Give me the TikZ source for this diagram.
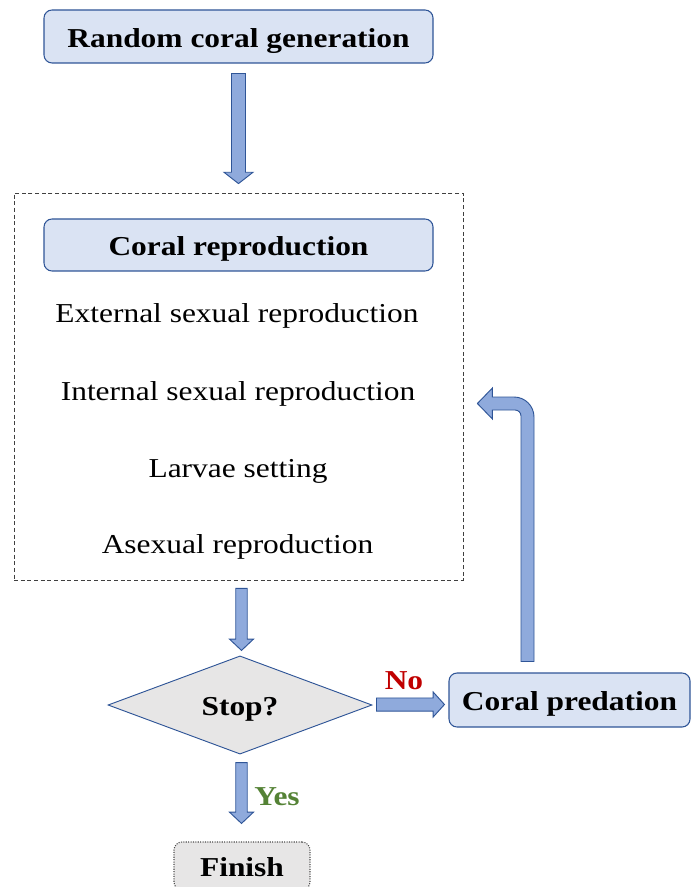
\documentclass[tikz,border=0pt]{standalone}
\usepackage{fontspec}
\setmainfont{Liberation Serif}[FakeStretch=1.15]
\usepackage{tikz}
\usetikzlibrary{shapes,arrows.meta,positioning,calc}
\definecolor{boxblue}{RGB}{218,227,243}
\definecolor{edgeblue}{RGB}{47,85,151}
\definecolor{arrowblue}{RGB}{143,170,220}
\definecolor{stopgray}{RGB}{231,230,230}
\definecolor{nored}{RGB}{192,0,0}
\definecolor{yesgreen}{RGB}{84,130,53}

% fat block arrow: start, tip, half shaft width, half head width
\newcommand{\fatarrow}[4]{%
  \path (#1) coordinate (fa-s) (#2) coordinate (fa-t);
  \path ($(fa-t)!8.5pt!(fa-s)$) coordinate (fa-h);
  \filldraw[fatarrow] ($(fa-s)!#3!90:(fa-t)$) -- ($(fa-h)!#3!90:(fa-t)$) -- ($(fa-h)!#4!90:(fa-t)$)
    -- (fa-t) -- ($(fa-h)!#4!-90:(fa-t)$) -- ($(fa-h)!#3!-90:(fa-t)$) -- ($(fa-s)!#3!-90:(fa-t)$) -- cycle;
}

\begin{document}
\begin{tikzpicture}[
  x=0.75pt, y=0.75pt,
  every node/.style={font=\fontsize{20.5}{24}\selectfont, align=center, inner sep=0pt},
  box/.style={draw=edgeblue, fill=boxblue, line width=0.8pt, rounded corners=6pt,
    font=\fontsize{20.5}{24}\selectfont\bfseries, text height=16pt, text depth=0pt},
  fatarrow/.style={draw=edgeblue, fill=arrowblue, line width=0.7pt, line join=miter}
]
\useasboundingbox (0,0) rectangle (691,-887);

\node[box, minimum width=291.75pt, minimum height=39.75pt] (gen) at (238.5,-36.5) {Random coral generation};
\node[draw=black!75, dash pattern=on 3pt off 2pt, line width=0.6pt, minimum width=336.75pt, minimum height=290.25pt] (group) at (238.5,-386.5) {};
\node[box, minimum width=291.75pt, minimum height=39pt] (repro) at (238.5,-245) {Coral reproduction};
\node[anchor=base] (ext) at (237,-323) {External sexual reproduction};
\node[anchor=base] (int) at (238,-400) {Internal sexual reproduction};
\node[anchor=base] (larv) at (238,-477) {Larvae setting};
\node[anchor=base] (asex) at (237.5,-553) {Asexual reproduction};

\node[diamond, draw=edgeblue, fill=stopgray, line width=0.7pt, minimum width=198pt, minimum height=73.5pt,
  font=\fontsize{20.5}{24}\selectfont\bfseries, text height=16pt, text depth=0pt] (stop) at (240,-705) {Stop?};
\node[box, minimum width=180.75pt, minimum height=40.5pt] (pred) at (569.5,-700) {Coral predation};
\node[box, draw=black!70, densely dotted, fill=stopgray, minimum width=102pt, minimum height=36pt] (fin) at (242,-866) {Finish};

\fatarrow{$(gen.south)+(0,-10)$}{$(group.north)+(0,9)$}{5.25pt}{10.9pt}
\fatarrow{$(group.south -| stop.north)+(1.5,-8)$}{$(stop.north)+(1.5,5)$}{4.3pt}{9pt}
\fatarrow{$(stop.south)+(1.5,-8)$}{$(fin.north)+(-0.5,18)$}{4.3pt}{9pt}
\fatarrow{$(stop.east)+(4,0.5)$}{$(stop.east -| pred.west)+(-4,0.5)$}{4.9pt}{9.4pt}

\node[anchor=base, font=\fontsize{20.5}{24}\selectfont\bfseries, text=nored] (no) at (404,-689) {No};
\node[anchor=base, font=\fontsize{20.5}{24}\selectfont\bfseries, text=yesgreen] (yes) at (277,-805) {Yes};

% bent arrow back to the reproduction group
\coordinate (up-foot) at ($(pred.north)+(-42,11)$);
\coordinate (up-tip) at ($(group.east)+(14,-17)$);
\coordinate (up-bend) at (up-foot |- up-tip);
\filldraw[fatarrow] ($(up-foot)+(6.5,0)$) -- ($(up-bend)+(6.5,-13.5)$) arc[start angle=0, end angle=90, radius=15pt]
  -- ($(up-tip)+(15,6.5)$) -- ($(up-tip)+(15,15.5)$) -- (up-tip) -- ($(up-tip)+(15,-15.5)$) -- ($(up-tip)+(15,-6.5)$)
  -- ($(up-bend)+(-12.5,-6.5)$) arc[start angle=90, end angle=0, radius=4.5pt] -- ($(up-foot)+(-6.5,0)$) -- cycle;
\end{tikzpicture}
\end{document}
